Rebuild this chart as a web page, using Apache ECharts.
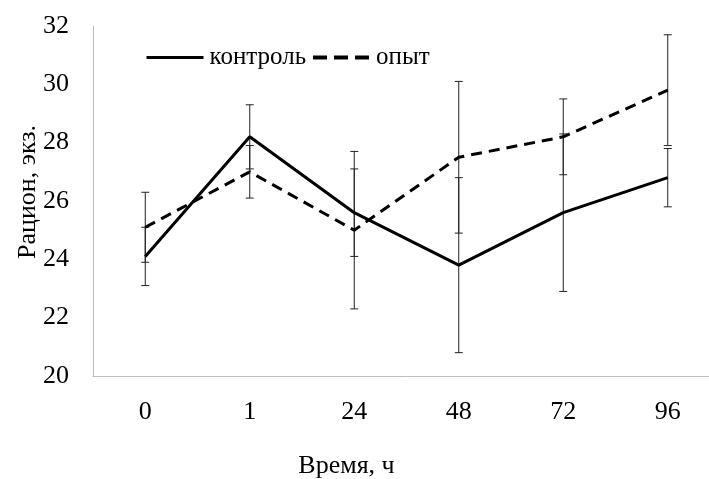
<!DOCTYPE html>
<html>
<head>
<meta charset="utf-8">
<script src="https://cdn.jsdelivr.net/npm/echarts@6/dist/echarts.min.js"></script>
<style>
  html, body { margin: 0; padding: 0; background: #fff; overflow: hidden; }
  #chart { width: 730px; height: 479px; }
</style>
</head>
<body>
<div id="chart"></div>
<script>
// данные
const hours = ['0', '1', '24', '48', '72', '96']
const control = [24.1, 28.2, 25.6, 23.8, 25.6, 26.8]
const controlErr = [1.0, 1.1, 1.5, 3.0, 2.7, 1.0]
const experiment = [25.1, 27.0, 25.0, 27.5, 28.2, 29.8]
const experimentErr = [1.2, 0.9, 2.7, 2.6, 1.3, 1.9]

const font = '"Liberation Serif", "Times New Roman", serif'

function errorSeries(name, values, errs) {
  return {
    name: name + '_err',
    type: 'custom',
    silent: true,
    z: 1,
    data: values.map((v, i) => [i, v - errs[i], v + errs[i]]),
    renderItem(params, api) {
      const lo = api.coord([api.value(0), api.value(1)])
      const hi = api.coord([api.value(0), api.value(2)])
      const w = 4
      const style = { stroke: '#222', lineWidth: 1 }
      return {
        type: 'group',
        children: [
          { type: 'line', shape: { x1: lo[0], y1: lo[1], x2: hi[0], y2: hi[1] }, style },
          { type: 'line', shape: { x1: lo[0] - w, y1: lo[1], x2: lo[0] + w, y2: lo[1] }, style },
          { type: 'line', shape: { x1: hi[0] - w, y1: hi[1], x2: hi[0] + w, y2: hi[1] }, style }
        ]
      }
    }
  }
}

const chart = echarts.init(document.getElementById('chart'))
chart.setOption({
  animation: false,
  textStyle: { fontFamily: font },
  legend: {
    data: [
      { name: 'контроль', lineStyle: { width: 3, color: '#000' } },
      { name: 'опыт', lineStyle: { width: 4, color: '#000', type: [14, 7] } }
    ],
    left: 145,
    top: 45,
    padding: 0,
    itemWidth: 57,
    itemHeight: 12,
    itemGap: 5,
    itemStyle: { opacity: 0 },
    textStyle: { fontFamily: font, fontSize: 25, color: '#000', padding: [0, 0, 0, 1] }
  },
  grid: { left: 93, top: 26, width: 627, height: 350, outerBoundsMode: 'none' },
  xAxis: {
    type: 'category',
    data: hours,
    name: 'Время, ч',
    nameLocation: 'middle',
    nameMoveOverlap: false,
    nameGap: 77,
    nameTextStyle: { fontFamily: font, fontSize: 26, color: '#000', padding: [0, 120, 0, 0] },
    axisLine: { lineStyle: { color: '#bfbfbf', width: 1 } },
    axisTick: { show: false },
    axisLabel: { fontFamily: font, fontSize: 26, color: '#000', margin: 23 }
  },
  yAxis: {
    type: 'value',
    min: 20,
    max: 32,
    interval: 2,
    name: 'Рацион, экз.',
    nameLocation: 'middle',
    nameMoveOverlap: false,
    nameGap: 52,
    nameTextStyle: { fontFamily: font, fontSize: 26, color: '#000', padding: [0, 0, 0, 18] },
    axisLine: { show: true, lineStyle: { color: '#bfbfbf', width: 1 } },
    axisTick: { show: false },
    splitLine: { show: false },
    axisLabel: { fontFamily: font, fontSize: 26, color: '#000', margin: 24 }
  },
  series: [
    errorSeries('контроль', control, controlErr),
    errorSeries('опыт', experiment, experimentErr),
    {
      name: 'контроль',
      type: 'line',
      data: control,
      symbol: 'none',
      z: 3,
      lineStyle: { color: '#000', width: 3 },
      itemStyle: { color: '#000' }
    },
    {
      name: 'опыт',
      type: 'line',
      data: experiment,
      symbol: 'none',
      z: 3,
      lineStyle: { color: '#000', width: 3, type: [11, 7] },
      itemStyle: { color: '#000' }
    }
  ]
})
</script>
</body>
</html>
